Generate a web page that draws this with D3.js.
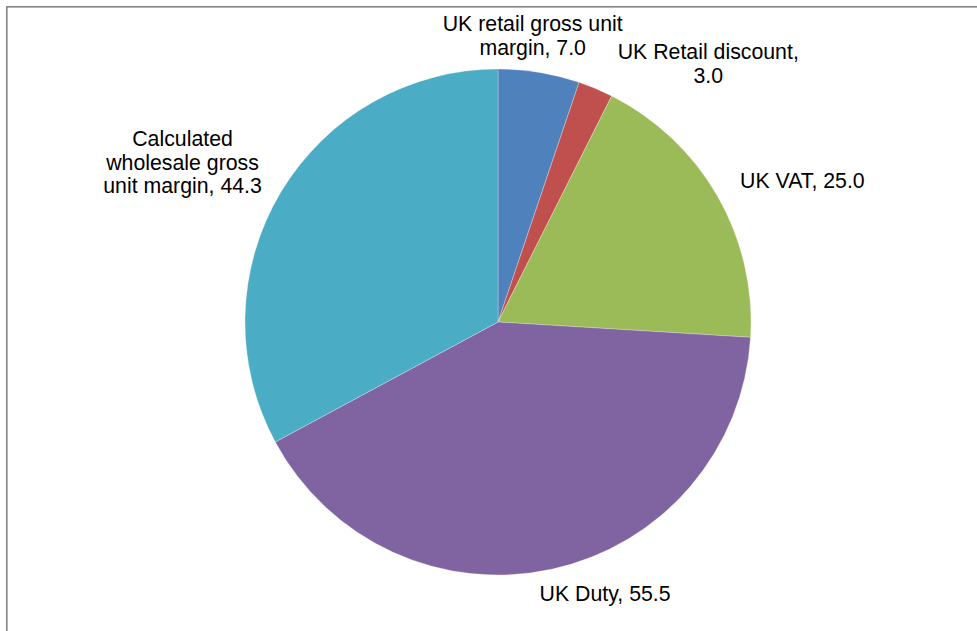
<!DOCTYPE html>
<html>
<head>
<meta charset="utf-8">
<script src="https://cdn.jsdelivr.net/npm/d3@7"></script>
<style>
  html, body { margin: 0; padding: 0; background: #fff; }
  svg { display: block; }
</style>
</head>
<body>
<svg id="chart" width="977" height="631"></svg>
<script>
// Price components (pence per unit), clockwise from 12 o'clock
const categories = [
  "UK retail gross unit margin",
  "UK Retail discount",
  "UK VAT",
  "UK Duty",
  "Calculated wholesale gross unit margin"
];
const values = [7.0, 3.0, 25.0, 55.5, 44.3];
const colors = ["#4F81BD", "#C0504D", "#9BBB59", "#8064A2", "#4BACC6"];

// How each label's text is broken into lines (the value is appended to the last line)
const labelLines = [
  ["UK retail gross unit", "margin,"],
  ["UK Retail discount,", ""],
  ["UK VAT,"],
  ["UK Duty,"],
  ["Calculated", "wholesale gross", "unit margin,"]
];
// Pixel nudges applied to each label after placing it on the label ring
const labelNudge = [[-13, 3], [97, 12], [50, 5], [44, -15], [-63.5, -9.5]];

const W = 977, H = 631;
const cx = 498, cy = 322, radius = 253;
const labelRing = radius * 1.16;
const fontSize = 21.3, lineH = 23.8, capH = fontSize * 0.716;

const svg = d3.select("#chart");

// chart area frame (right and bottom edges run past the window)
svg.append("rect")
  .attr("x", 6.8).attr("y", 6.8)
  .attr("width", W + 20).attr("height", H + 20)
  .attr("fill", "#fff")
  .attr("stroke", "#898989")
  .attr("stroke-width", 1.7);

const pie = d3.pie().sort(null).value(d => d);
const arcs = pie(values);
const arc = d3.arc().innerRadius(0).outerRadius(radius);

const g = svg.append("g").attr("transform", `translate(${cx},${cy})`);

g.selectAll("path.slice")
  .data(arcs)
  .join("path")
  .attr("class", "slice")
  .attr("d", arc)
  .attr("fill", (d, i) => colors[i])
  .attr("stroke", "#ffffff")
  .attr("stroke-opacity", 0.35)
  .attr("stroke-width", 0.8);

const fmt = d3.format(".1f");

const labels = g.selectAll("text.label")
  .data(arcs)
  .join("text")
  .attr("class", "label")
  .attr("font-family", "'Liberation Sans', Arial, sans-serif")
  .attr("font-size", fontSize)
  .attr("fill", "#000")
  .attr("text-anchor", "middle");

labels.each(function (d, i) {
  const mid = (d.startAngle + d.endAngle) / 2;
  const x = Math.sin(mid) * labelRing + labelNudge[i][0];
  const yMid = -Math.cos(mid) * labelRing + labelNudge[i][1];
  const lines = labelLines[i].slice();
  const last = lines.length - 1;
  lines[last] = (lines[last] ? lines[last] + " " : "") + fmt(d.data);
  const n = lines.length;
  const firstBase = yMid - ((n - 1) * lineH + capH) / 2 + capH;
  const t = d3.select(this);
  lines.forEach((s, k) => {
    t.append("tspan")
      .attr("x", x)
      .attr("y", firstBase + k * lineH)
      .text(s);
  });
});
</script>
</body>
</html>
